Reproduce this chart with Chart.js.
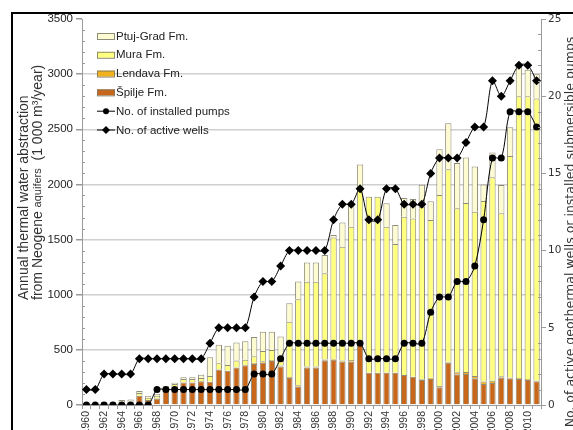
<!DOCTYPE html>
<html>
<head>
<meta charset="utf-8">
<script src="https://cdn.jsdelivr.net/npm/chart.js@4.4.1/dist/chart.umd.min.js"></script>
<style>
html, body { margin: 0; padding: 0; overflow: hidden; background: #fff; }
#wrap { position: relative; width: 573px; height: 450px; }
#frame { position: absolute; left: 11px; top: 12px; width: 700px; height: 600px;
         border-left: 2px solid #000; border-top: 2px solid #000; pointer-events: none; }
</style>
</head>
<body>
<div id="wrap">
  <canvas id="chart" width="573" height="450"></canvas>
  <div id="frame"></div>
</div>
<script>
const years = ['1960','1961','1962','1963','1964','1965','1966','1967','1968','1969',
  '1970','1971','1972','1973','1974','1975','1976','1977','1978','1979',
  '1980','1981','1982','1983','1984','1985','1986','1987','1988','1989',
  '1990','1991','1992','1993','1994','1995','1996','1997','1998','1999',
  '2000','2001','2002','2003','2004','2005','2006','2007','2008','2009',
  '2010','2011'];

// 1 000 m3/year
const spilje = [0,0,6,6,10,12,85,45,60,160,
  160,205,205,215,210,323,311,341,360,372,
  384,399,348,245,165,341,341,405,410,393,
  393,550,293,293,293,293,272,257,227,236,
  160,384,278,281,242,190,199,248,242,236,
  227,215];
const lendava = [0,0,0,0,0,0,0,0,0,0,
  0,0,0,0,0,0,0,0,0,10,
  12,9,10,10,15,7,7,8,8,10,
  15,0,0,0,0,0,0,0,6,12,
  12,9,18,18,21,22,22,12,6,8,
  8,6];
const mura = [0,0,10,10,15,18,23,21,25,10,
  30,30,30,30,52,55,52,62,50,60,
  94,91,80,500,778,770,770,781,1100,1032,
  1209,1400,1596,1596,1324,1167,1435,1435,1565,1429,
  1732,1745,1487,1533,1490,1638,1844,1478,2010,2556,
  2565,2559];
const ptujGrad = [0,0,12,12,20,20,20,16,15,2,
  12,16,16,30,170,169,174,163,167,175,
  175,166,182,167,162,175,175,166,23,220,
  200,230,0,0,212,172,170,176,200,170,
  414,416,412,413,410,150,225,257,260,270,
  240,220];

// counts
const installedPumps = [0,0,0,0,0,0,0,0,1,1,
  1,1,1,1,1,1,1,1,1,2,
  2,2,3,4,4,4,4,4,4,4,
  4,4,3,3,3,3,4,4,4,6,
  7,7,8,8,9,12,16,16,19,19,
  19,18];
const activeWells = [1,1,2,2,2,2,3,3,3,3,
  3,3,3,3,4,5,5,5,5,7,
  8,8,9,10,10,10,10,10,12,13,
  13,14,12,12,14,14,13,13,13,15,
  16,16,16,17,18,18,21,20,21,22,
  22,21];

const leftTicks = [0, 500, 1000, 1500, 2000, 2500, 3000, 3500];
const rightTicks = [0, 5, 10, 15, 20, 25];

const barEdge = 'rgba(125,120,100,0.85)';

function vText(ctx, parts, x, y, align) {
  // parts: [{text, font}] drawn one after another, rotated to read upwards
  ctx.save();
  ctx.translate(x, y);
  ctx.rotate(-Math.PI / 2);
  ctx.textBaseline = 'middle';
  let total = 0;
  parts.forEach(p => { ctx.font = p.font; total += ctx.measureText(p.text).width; });
  let pos = align === 'center' ? -total / 2 : 0;
  parts.forEach(p => {
    ctx.font = p.font;
    ctx.textAlign = 'left';
    ctx.fillText(p.text, pos, 0);
    pos += ctx.measureText(p.text).width;
  });
  ctx.restore();
}

const extras = {
  id: 'extras',
  afterDraw(chart) {
    const ctx = chart.ctx;
    const yL = chart.scales.y, yR = chart.scales.y2, area = chart.chartArea;
    ctx.save();
    // minor ticks
    ctx.strokeStyle = '#999';
    ctx.lineWidth = 1;
    ctx.beginPath();
    for (let v = 100; v < 3500; v += 100) {
      if (v % 500 === 0) continue;
      const py = Math.round(yL.getPixelForValue(v)) + 0.5;
      ctx.moveTo(area.left, py); ctx.lineTo(area.left + 3, py);
    }
    for (let v = 1; v < 25; v++) {
      if (v % 5 === 0) continue;
      const py = Math.round(yR.getPixelForValue(v)) + 0.5;
      ctx.moveTo(area.right - 3, py); ctx.lineTo(area.right, py);
    }
    ctx.stroke();

    // legend
    const items = [3, 2, 1, 0, 4, 5];
    ctx.font = '11.5px "Liberation Sans", Arial, sans-serif';
    ctx.textBaseline = 'middle';
    ctx.textAlign = 'left';
    items.forEach((di, k) => {
      const ds = chart.data.datasets[di];
      const cy = 36 + k * 18.8;
      if (ds.type === 'line') {
        ctx.strokeStyle = '#000';
        ctx.lineWidth = 1;
        ctx.beginPath(); ctx.moveTo(97, cy); ctx.lineTo(115, cy); ctx.stroke();
        ctx.fillStyle = '#000';
        ctx.beginPath();
        if (ds.pointStyle === 'rectRot') {
          ctx.moveTo(106, cy - 4); ctx.lineTo(110, cy); ctx.lineTo(106, cy + 4); ctx.lineTo(102, cy);
        } else {
          ctx.arc(106, cy, 3, 0, Math.PI * 2);
        }
        ctx.closePath(); ctx.fill();
      } else {
        ctx.fillStyle = ds.backgroundColor;
        ctx.fillRect(97, cy - 3, 18, 6);
        ctx.strokeStyle = barEdge;
        ctx.lineWidth = 1;
        ctx.strokeRect(97.5, cy - 2.5, 17, 6);
      }
      ctx.fillStyle = '#222';
      ctx.fillText(ds.label, 116, cy + 0.5);
    });

    // axis titles
    ctx.fillStyle = '#333';
    vText(ctx, [{ text: 'Annual thermal water abstraction', font: '14px "Liberation Sans", Arial, sans-serif' }], 24, 300, 'start');
    vText(ctx, [
      { text: 'from Neogene ', font: '14px "Liberation Sans", Arial, sans-serif' },
      { text: 'aquifers', font: '11px "Liberation Sans", Arial, sans-serif' },
      { text: '  (1 000 m³/year)', font: '14px "Liberation Sans", Arial, sans-serif' }
    ], 38, 300, 'start');
    vText(ctx, [{ text: 'No. of active geothermal wells or installed submersible pumps', font: '12.5px "DejaVu Sans", sans-serif' }], 571, 232, 'center');
    ctx.restore();
  }
};

Chart.defaults.font.family = '"Liberation Sans", Arial, sans-serif';

new Chart(document.getElementById('chart'), {
  data: {
    labels: years,
    datasets: [
      { type: 'bar', label: 'Špilje Fm.', data: spilje, backgroundColor: '#c8661a', borderColor: barEdge, borderWidth: 1, yAxisID: 'y', order: 2, barPercentage: 0.72, categoryPercentage: 1 },
      { type: 'bar', label: 'Lendava Fm.', data: lendava, backgroundColor: '#f2b21c', borderColor: barEdge, borderWidth: 1, yAxisID: 'y', order: 2, barPercentage: 0.72, categoryPercentage: 1 },
      { type: 'bar', label: 'Mura Fm.', data: mura, backgroundColor: '#ffff80', borderColor: barEdge, borderWidth: 1, yAxisID: 'y', order: 2, barPercentage: 0.72, categoryPercentage: 1 },
      { type: 'bar', label: 'Ptuj-Grad Fm.', data: ptujGrad, backgroundColor: '#fdfbd2', borderColor: barEdge, borderWidth: 1, yAxisID: 'y', order: 2, barPercentage: 0.72, categoryPercentage: 1 },
      { type: 'line', label: 'No. of installed pumps', data: installedPumps, yAxisID: 'y2', order: 0,
        borderColor: '#000', borderWidth: 1, tension: 0.3, pointStyle: 'circle', pointRadius: 3.5,
        pointBackgroundColor: '#000', pointBorderColor: '#000', pointBorderWidth: 0 },
      { type: 'line', label: 'No. of active wells', data: activeWells, yAxisID: 'y2', order: 1,
        borderColor: '#000', borderWidth: 1, tension: 0.3, pointStyle: 'rectRot', pointRadius: 4.5,
        pointBackgroundColor: '#000', pointBorderColor: '#000', pointBorderWidth: 0 }
    ]
  },
  options: {
    responsive: false,
    animation: false,
    layout: { padding: { top: 19, left: 0, right: 0, bottom: 0 } },
    plugins: { legend: { display: false }, tooltip: { enabled: false } },
    scales: {
      x: {
        stacked: true,
        grid: { drawOnChartArea: false, drawTicks: true, tickLength: 4, color: '#999' },
        border: { color: '#999' },
        ticks: {
          autoSkip: false, minRotation: 90, maxRotation: 90, padding: 2, color: '#333',
          font: { size: 10.5 },
          callback: function (val, i) { return i % 2 === 0 ? this.getLabelForValue(val) : ''; }
        },
        afterFit: s => { s.height = 45; }
      },
      y: {
        stacked: true, position: 'left', min: 0, max: 3500,
        afterBuildTicks: s => { s.ticks = leftTicks.map(v => ({ value: v })); },
        ticks: { color: '#222', font: { size: 11.5 }, padding: 3, callback: v => String(v) },
        grid: {
          color: c => (c.tick && c.tick.value > 0 && c.tick.value < 3500) ? '#cfcfcf' : 'rgba(0,0,0,0)',
          lineWidth: 1.5, tickLength: 6, tickColor: '#999'
        },
        border: { color: '#999' },
        afterFit: s => { s.width = 82; }
      },
      y2: {
        position: 'right', min: 0, max: 25,
        afterBuildTicks: s => { s.ticks = rightTicks.map(v => ({ value: v })); },
        ticks: { color: '#333', font: { family: '"DejaVu Sans", sans-serif', size: 10.5 }, padding: 2, callback: v => String(v) },
        grid: { drawOnChartArea: false, tickLength: 5, color: '#999' },
        border: { color: '#999' },
        afterFit: s => { s.width = 32; }
      }
    }
  },
  plugins: [extras]
});
</script>
</body>
</html>
